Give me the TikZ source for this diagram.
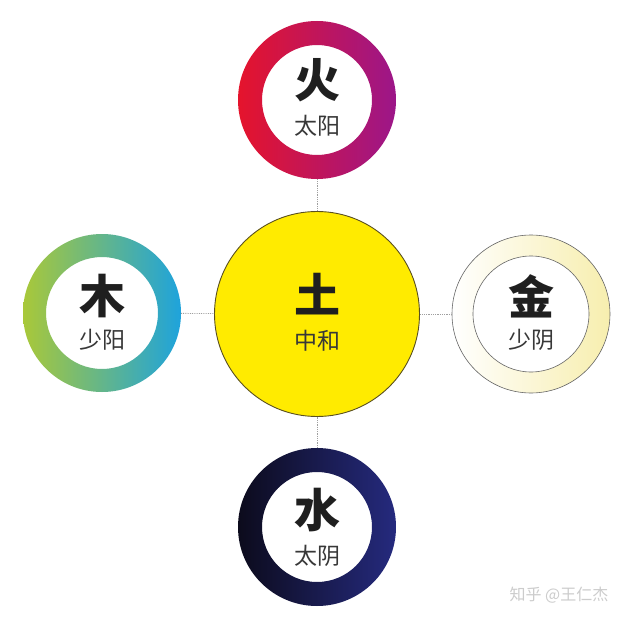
\documentclass[tikz,border=0pt]{standalone}
\usepackage{fontspec}
\newfontfamily\cjk{Noto Sans CJK SC}
\definecolor{firel}{HTML}{E5142C}
\definecolor{firer}{HTML}{9C1689}
\definecolor{woodl}{HTML}{A9C839}
\definecolor{woodm}{HTML}{3DB77E}
\definecolor{woodr}{HTML}{1EA3DC}
\definecolor{waterl}{HTML}{0C0B1C}
\definecolor{waterr}{HTML}{252A7E}
\definecolor{metalr}{HTML}{F7EEAE}
\definecolor{earthc}{HTML}{FFEB00}
\definecolor{earthd}{HTML}{5A5020}
\begin{document}
\begin{tikzpicture}[x=1pt,y=-1pt,
  ringnode/.style={circle, minimum size=158pt, inner sep=0pt},
  bigchar/.style={font=\cjk\bfseries\fontsize{46}{46}\selectfont, text=black!88, inner sep=0pt},
  smallchar/.style={font=\cjk\fontsize{23}{23}\selectfont, text=black!78, inner sep=0pt},
  link/.style={draw=gray!75, densely dotted, line width=0.8pt}]
\fill[white] (0,0) rectangle (635,623);
\useasboundingbox (0,0) rectangle (635,623);
% nodes
\node[circle, minimum size=205pt, inner sep=0pt, fill=earthc, draw=earthd, line width=0.9pt] (earth) at (317,314) {};
\node[ringnode] (fire) at (317,100) {};
\node[ringnode] (wood) at (102,313) {};
\node[ringnode] (metal) at (531,314) {};
\node[ringnode] (water) at (317,527) {};
% rings
\shade[left color=firel, right color=firer, even odd rule] (fire.center) circle (79pt) (fire.center) circle (55pt);
\shade[left color=woodl, middle color=woodm, right color=woodr, even odd rule] (wood.center) circle (79pt) (wood.center) circle (56pt);
\shade[left color=white, right color=metalr, even odd rule] (metal.center) circle (79pt) (metal.center) circle (58pt);
\draw[gray!80!black, line width=0.6pt] (metal.center) circle (79pt) (metal.center) circle (58pt);
\shade[left color=waterl, right color=waterr, even odd rule] (water.center) circle (79pt) (water.center) circle (55pt);
% connectors
\draw[link] (fire) -- (earth);
\draw[link] (wood) -- (earth);
\draw[link] (metal) -- (earth);
\draw[link] (water) -- (earth);
% texts
\node[bigchar] (firet) at (317,80) {火};
\node[smallchar] (fires) at (317,126) {太阳};
\node[bigchar] (woodt) at (102,296) {木};
\node[smallchar] (woods) at (102,340) {少阳};
\node[bigchar] (earthtt) at (317,294) {土};
\node[smallchar] (earths) at (317,341) {中和};
\node[bigchar] (metalt) at (531,296) {金};
\node[smallchar] (metals) at (531,340) {少阴};
\node[bigchar] (watert) at (317,510) {水};
\node[smallchar] (waters) at (317,556) {太阴};
\node[font=\cjk\fontsize{16}{16}\selectfont, text=gray!40, inner sep=0pt] (wm) at (559,595) {知乎 @王仁杰};
\end{tikzpicture}
\end{document}
